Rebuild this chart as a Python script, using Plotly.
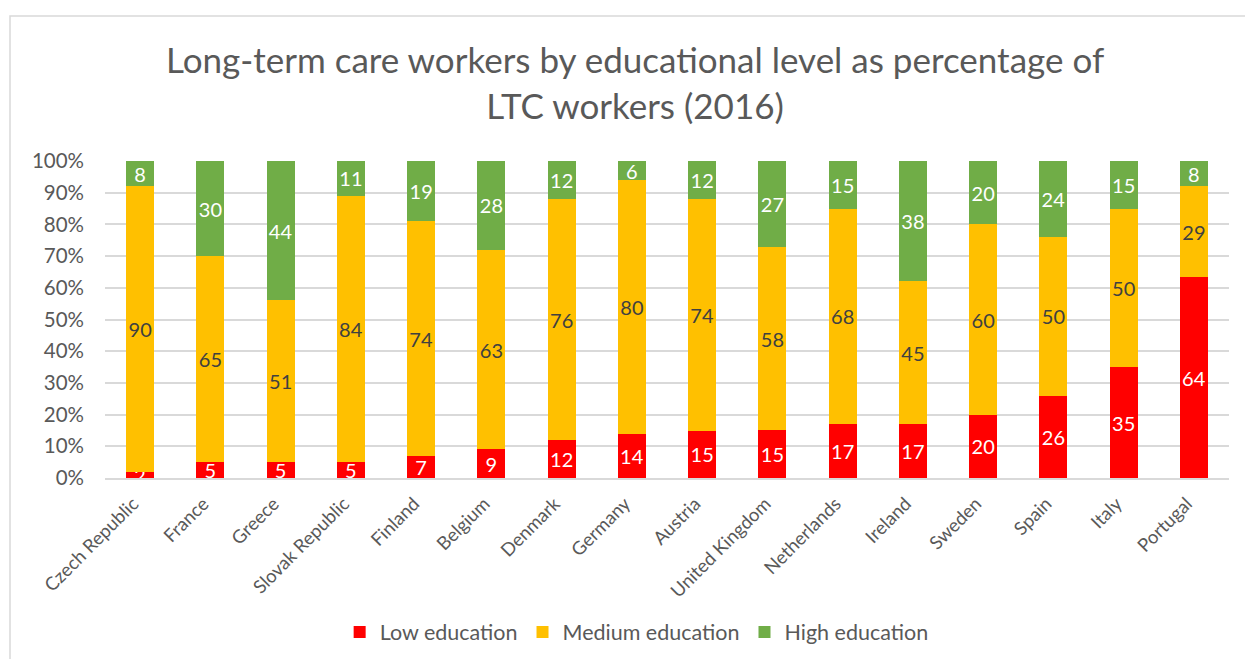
import plotly.graph_objects as go

countries = ["Czech Republic", "France", "Greece", "Slovak Republic", "Finland", "Belgium",
             "Denmark", "Germany", "Austria", "United Kingdom", "Netherlands", "Ireland",
             "Sweden", "Spain", "Italy", "Portugal"]
low = [2, 5, 5, 5, 7, 9, 12, 14, 15, 15, 17, 17, 20, 26, 35, 64]
medium = [90, 65, 51, 84, 74, 63, 76, 80, 74, 58, 68, 45, 60, 50, 50, 29]
high = [8, 30, 44, 11, 19, 28, 12, 6, 12, 27, 15, 38, 20, 24, 15, 8]

series = [
    ("Low education", low, "#FF0000", "white"),
    ("Medium education", medium, "#FFC000", "#404040"),
    ("High education", high, "#70AD47", "white"),
]

FONT = "Lato, 'Open Sans', sans-serif"

fig = go.Figure()
for name, vals, color, tcolor in series:
    fig.add_trace(go.Bar(
        x=countries, y=vals, name=name,
        marker=dict(color=color, line=dict(width=0)),
        text=[str(v) for v in vals],
        textposition="inside", insidetextanchor="middle", textangle=0,
        textfont=dict(color=tcolor, size=20, family=FONT),
        hoverinfo="skip",
    ))

fig.update_layout(
    barmode="stack", barnorm="percent", bargap=0.6,
    width=1245, height=659,
    margin=dict(l=105, r=16, t=161, b=181, autoexpand=False),
    paper_bgcolor="white", plot_bgcolor="white",
    font=dict(family=FONT, color="#595959"),
    uniformtext=dict(minsize=20, mode="show"),
    legend=dict(
        orientation="h", x=0.473, xanchor="center",
        yref="container", y=1 - 632 / 659, yanchor="middle",
        font=dict(size=21.5, color="#595959", family=FONT),
        traceorder="normal", itemsizing="constant",
    ),
    xaxis=dict(
        tickangle=-45, tickfont=dict(size=18.5, color="#595959", family=FONT),
        showgrid=False, showline=True, linecolor="#d9d9d9", linewidth=1.5,
        ticks="", automargin=False, ticklabelstandoff=6, ticklabelshift=-7,
    ),
    yaxis=dict(
        range=[0, 100], dtick=10, ticksuffix="%",
        tickfont=dict(size=20.5, color="#595959", family=FONT),
        showgrid=True, gridcolor="#d9d9d9", gridwidth=1.5,
        zeroline=False, ticks="", ticklabelstandoff=20, automargin=False,
    ),
    annotations=[dict(
        text="Long-term care workers by educational level as percentage of<br>LTC workers (2016)",
        xref="paper", yref="paper",
        x=(635 - 105) / 1124, y=(478 - 81.5) / 317,
        xanchor="center", yanchor="middle", showarrow=False,
        font=dict(size=35, color="#595959", family=FONT),
    )],
    shapes=[dict(
        type="rect", xref="paper", yref="paper",
        x0=(10 - 105) / 1124, x1=(1260 - 105) / 1124,
        y0=(478 - 680) / 317, y1=(478 - 16) / 317,
        line=dict(color="#d9d9d9", width=1.5), fillcolor="rgba(0,0,0,0)", layer="below",
    )],
)

fig.write_html("out.html")
